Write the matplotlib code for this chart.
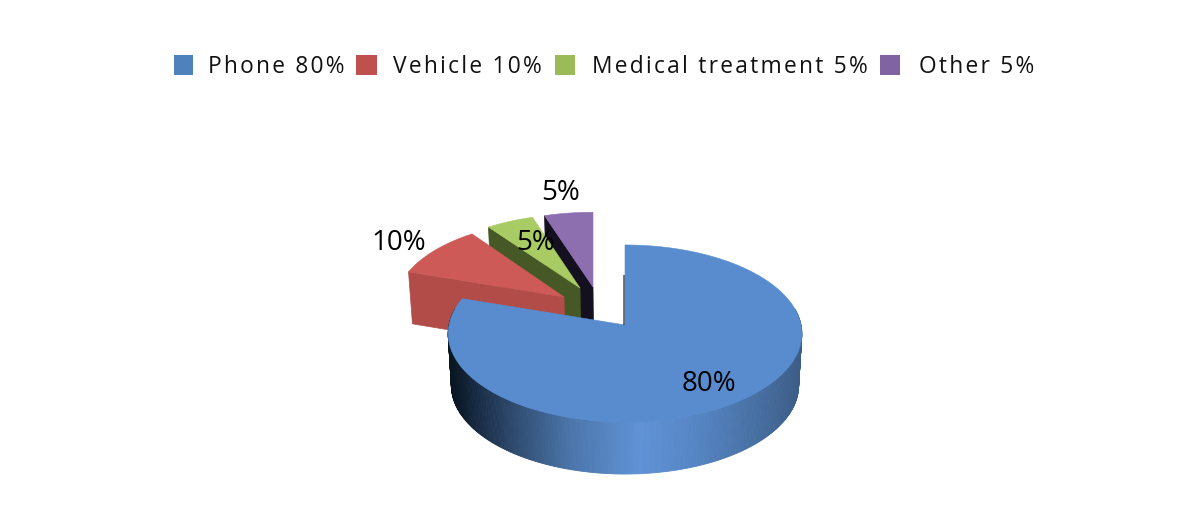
import numpy as np
import matplotlib
matplotlib.use('Agg')
import matplotlib.pyplot as plt
from matplotlib.patches import Polygon, Rectangle

plt.rcParams['font.family'] = ['Open Sans', 'DejaVu Sans']

categories = ['Phone', 'Vehicle', 'Medical treatment', 'Other']
shares = [80, 10, 5, 5]

legend_colors = ['#4f81bd', '#c0504d', '#9bbb59', '#8064a2']
top_colors = ['#588cce', '#cd5a57', '#a8cb63', '#8d6fb0']
wall_colors = ['#588cce', '#b24c49', '#465825', '#15101f']

# 3d look of the pie, in pixels
cx, cy = 625, 325
rx, ry = 176, 87.7
persp = 0.096
depth = 52
offsets = [(0, 0), (-61, -28), (-45, -37), (-32, -38)]
radii = [1.0, 0.955, 0.95, 0.97]
y_scale = [1.0, 1.0, 0.97, 0.96]

# shading of the round wall, from left to right
wall_x = [450, 470, 510, 570, 640, 700, 760, 803]
wall_r = [10, 20, 45, 75, 95, 85, 70, 60]
wall_g = [22, 38, 72, 118, 146, 132, 110, 92]
wall_b = [34, 60, 108, 170, 214, 194, 160, 134]

legend_x = [174, 356, 555, 880]
legend_w = [19, 21, 20, 20]
legend_tx = [208, 393, 592, 919]
label_pos = [(709, 384), (399, 243), (536, 243), (561, 193)]


def project(theta, r, off=(0, 0), drop=0, ys=1.0):
    theta = np.asarray(theta)
    u = r * np.sin(theta)
    v = -r * np.cos(theta)
    s = 1 / (1 - persp * v)
    shrink = 1 - 0.018 * drop / depth
    x = cx + (off[0] + rx * u * s) * shrink
    y = cy + off[1] + ry * v * s * ys + drop
    return x, y


fig = plt.figure(figsize=(12, 5.12), dpi=100)
ax = fig.add_axes([0, 0, 1, 1])
ax.set_xlim(0, 1200)
ax.set_ylim(512, 0)
ax.axis('off')

edges = np.cumsum([0] + shares) / sum(shares) * 2 * np.pi

# far slices first, blue one goes on top
for i in [3, 2, 1, 0]:
    t = np.linspace(edges[i], edges[i + 1], 300)
    off, r, ys = offsets[i], radii[i], y_scale[i]
    ax_, ay_ = project(0, 0, off)
    if i > 0:
        ox, oy = project(edges[i], r, off, 0, ys)
        bx, by = project(0, 0, off, depth)
        ox2, oy2 = project(edges[i], r, off, depth, ys)
        ax.add_patch(Polygon([(ox, oy), (ax_, ay_), (bx, by), (ox2, oy2)],
                             fc=wall_colors[i], ec=wall_colors[i], lw=0.5))
    else:
        th = np.linspace(np.pi * 0.44, np.pi * 1.56, 260)
        for a, b in zip(th[:-1], th[1:]):
            x1, y1 = project([a, b], r, off)
            x2, y2 = project([b, a], r, off, depth)
            mid = (x1[0] + x1[1]) / 2
            col = (np.interp(mid, wall_x, wall_r) / 255,
                   np.interp(mid, wall_x, wall_g) / 255,
                   np.interp(mid, wall_x, wall_b) / 255)
            pts = np.column_stack([np.r_[x1, x2], np.r_[y1, y2]])
            ax.add_patch(Polygon(pts, fc=col, ec=col, lw=0.6))
    x, y = project(t, r, off, 0, ys)
    pts = np.column_stack([np.r_[ax_, x], np.r_[ay_, y]])
    ax.add_patch(Polygon(pts, fc=top_colors[i], ec=top_colors[i], lw=0.4))

# cut face of the big slice seen edge on
ax.plot([cx - 1, cx - 1], [cy - 50, cy], color='#10202e', lw=1.2, alpha=0.7, solid_capstyle='butt')

for i, name in enumerate(categories):
    ax.add_patch(Rectangle((legend_x[i], 55), legend_w[i], 19.5, fc=legend_colors[i],
                           ec='none'))
    txt = f'{name} {shares[i]}%'
    ax.text(legend_tx[i], 73, '\u200a'.join(txt), fontsize=16.4, color='#111111',
            ha='left', va='baseline')
    ax.text(label_pos[i][0], label_pos[i][1], f'{shares[i]}%', fontsize=20, color='black',
            ha='center', va='center')

fig.savefig('out.png', dpi=100)
